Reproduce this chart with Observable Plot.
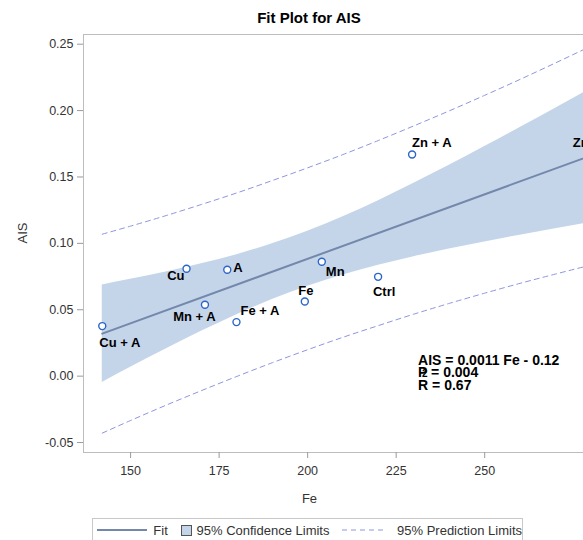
<!DOCTYPE html>
<html>
<head>
<meta charset="utf-8">
<script src="https://cdn.jsdelivr.net/npm/d3@7"></script>
<script src="https://cdn.jsdelivr.net/npm/@observablehq/plot@0.6"></script>
<style>
html,body{margin:0;padding:0;background:#fff;overflow:hidden;width:583px;height:540px;}
#wrap{position:relative;width:620px;height:540px;font-family:"Liberation Sans",Arial,sans-serif;}
#title{position:absolute;left:0;top:10px;width:618px;text-align:center;font-size:15px;font-weight:bold;line-height:15px;color:#000;}
#chart{position:absolute;left:0;top:0;}
#legend{position:absolute;left:92px;top:518px;width:431px;height:24px;border:1px solid #c8c8c8;box-sizing:border-box;display:flex;align-items:center;padding-left:4px;font-size:13px;color:#333;white-space:nowrap;}
#legend svg{display:block;}
.box{width:11px;height:11px;background:#c4d5ea;border:1px solid #555;box-sizing:border-box;}
</style>
</head>
<body>
<div id="wrap">
  <div id="chart"></div>
  <div id="title">Fit Plot for AIS</div>
  <div id="legend">
    <svg width="52" height="10"><line x1="0" x2="52" y1="5" y2="5" stroke="#7388ab" stroke-width="2"/></svg>
    <span style="margin-left:6px">Fit</span>
    <div class="box" style="margin-left:13px"></div>
    <span style="margin-left:5px">95% Confidence Limits</span>
    <svg width="46" height="10" style="margin-left:13px"><line x1="0" x2="46" y1="5" y2="5" stroke="#8d96e0" stroke-width="1" stroke-dasharray="5,4"/></svg>
    <span style="margin-left:10px">95% Prediction Limits</span>
  </div>
</div>
<script>
// Observations
const labels = ["Cu + A","Cu","Mn + A","A","Fe + A","Fe","Mn","Ctrl","Zn + A","Zn"];
const feValues = [142.0,165.8,171.0,177.3,179.9,199.2,204.0,219.9,229.5,280.5];
const aisValues = [0.0377,0.0809,0.0538,0.0801,0.0407,0.0562,0.0861,0.0748,0.1669,0.1752];

// Fit line and limits (read along Fe)
const fitFe = [142, 280.5];
const fitAIS = [0.0320, 0.1666];
const gridFe  = [142,150,160,170,180,190,200,210,220,230,240,250,260,270,280.5];
const clLower = [-0.0047,0.0067,0.0205,0.0338,0.0463,0.0577,0.0677,0.0762,0.0835,0.0900,0.0958,0.1011,0.1062,0.1111,0.1160];
const clUpper = [0.0687,0.0729,0.0785,0.0846,0.0915,0.0997,0.1091,0.1200,0.1321,0.1452,0.1588,0.1729,0.1872,0.2017,0.2172];
const plLower = [-0.0429,-0.0334,-0.0219,-0.0109,-0.0002,0.0101,0.0199,0.0293,0.0381,0.0467,0.0548,0.0625,0.0699,0.0769,0.0840];
const plUpper = [0.1069,0.1130,0.1209,0.1293,0.1380,0.1473,0.1569,0.1669,0.1775,0.1885,0.1998,0.2115,0.2235,0.2359,0.2492];

// Ticks
const xTicks = [150,175,200,225,250];
const yTicks = [-0.05,0,0.05,0.10,0.15,0.20,0.25];

// Inset statistics
const insetLines = ["AIS = 0.0011 Fe - 0.12","P = 0.004","R = 0.67"];
const insetAt = {fe: 231.2, ais: 0.0155};

// Tables
const points = labels.map((l,i)=>({label:l, fe:feValues[i], ais:aisValues[i]}));
const band = gridFe.map((f,i)=>({fe:f, clLo:clLower[i], clHi:clUpper[i], plLo:plLower[i], plHi:plUpper[i]}));
const fit = fitFe.map((f,i)=>({fe:f, ais:fitAIS[i]}));

// label placement: [textAnchor, dx, dy]
const place = {
  "Cu + A":["start",-3,17], "Cu":["end",-2,7], "Mn + A":["middle",-10.5,12], "A":["start",6,-2],
  "Fe + A":["start",4,-11], "Fe":["middle",1,-11], "Mn":["start",4,10], "Ctrl":["middle",6,15],
  "Zn + A":["start",0,-12], "Zn":["end",-4,-1]
};
const font = '"Liberation Sans", Arial, sans-serif';

const chart = Plot.plot({
  width: 620, height: 512,
  marginTop: 34, marginBottom: 60, marginLeft: 83, marginRight: 14,
  style: {fontFamily: font, fontSize: "12.5px", color: "#333", background: "transparent"},
  x: {domain: [136.7, 284.4], label: null},
  y: {domain: [-0.0575, 0.2573], label: null},
  marks: [
    Plot.areaY(band, {x:"fe", y1:"clLo", y2:"clHi", fill:"#c4d5ea", curve:"monotone-x"}),
    Plot.line(band, {x:"fe", y:"plLo", stroke:"#8d96e0", strokeWidth:1, strokeDasharray:"5,4", curve:"monotone-x"}),
    Plot.line(band, {x:"fe", y:"plHi", stroke:"#8d96e0", strokeWidth:1, strokeDasharray:"5,4", curve:"monotone-x"}),
    Plot.line(fit, {x:"fe", y:"ais", stroke:"#7388ab", strokeWidth:2}),
    Plot.dot(points, {x:"fe", y:"ais", r:3.5, stroke:"#2c65c8", strokeWidth:1.4, fill:"white"}),
    ...points.map(p => Plot.text([p], {x:"fe", y:"ais", text:"label", textAnchor:place[p.label][0], dx:place[p.label][1], dy:place[p.label][2], fontSize:13, fontWeight:"bold", fill:"#000", fontFamily:font})),
    Plot.text([insetAt], {x:"fe", y:"ais", text:() => insetLines.join("\n"), textAnchor:"start", lineAnchor:"top", fontSize:14, fontWeight:"bold", lineHeight:0.91, fill:"#000", fontFamily:font}),
    Plot.text([insetAt], {x:"fe", y:"ais", text:() => "2", textAnchor:"start", lineAnchor:"top", dx:4, dy:14.8, fontSize:10, fontWeight:"bold", fill:"#000", fontFamily:font}),
    Plot.frame({stroke:"#bdbdbd"}),
    Plot.axisX({ticks:xTicks, tickSize:6, tickPadding:8, stroke:"#9a9a9a", fill:"#333", label:null}),
    Plot.axisY({ticks:yTicks, tickSize:6, tickPadding:4, tickFormat:d => d.toFixed(2), stroke:"#9a9a9a", fill:"#333", label:null}),
    Plot.text(["Fe"], {frameAnchor:"bottom", text:d=>d, dx:-35.5, dy:50, lineAnchor:"bottom", fontSize:13, fill:"#333", fontFamily:font}),
    Plot.text(["AIS"], {frameAnchor:"left", text:d=>d, dx:-61, rotate:-90, lineAnchor:"middle", fontSize:13, fill:"#333", fontFamily:font})
  ]
});
document.getElementById("chart").appendChild(chart);
</script>
</body>
</html>
